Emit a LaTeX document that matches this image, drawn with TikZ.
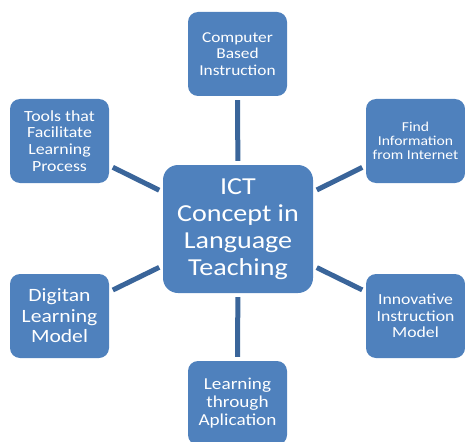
\documentclass[tikz,border=0pt]{standalone}
\usepackage{fontspec}
\setmainfont{Carlito}[FakeStretch=1.15]
\definecolor{boxblue}{HTML}{4F81BD}
\definecolor{linkblue}{HTML}{3A659A}
\begin{document}
\begin{tikzpicture}[x=1pt,y=-1pt,
  box/.style={fill=boxblue, rounded corners=10pt, text=white, align=center,
    inner sep=0pt, minimum width=99pt, minimum height=84pt},
  hub/.style={fill=boxblue, rounded corners=15pt, text=white, align=center,
    inner sep=0pt, minimum width=150pt, minimum height=128pt},
  link/.style={draw=linkblue, line width=5pt, shorten <=4pt, shorten >=4pt}]
\useasboundingbox (0,0) rectangle (465,441);

% central concept
\node[hub, font=\fontsize{24.4}{27}\selectfont] (hub) at (238,229)
  {ICT\\Concept in\\Language\\Teaching};

% surrounding topics
\node[box, font=\fontsize{15.1}{16.3}\selectfont] (cbi) at (237.5,54)
  {Computer\\Based\\Instruction};
\node[box, font=\fontsize{15.5}{16.7}\selectfont] (tools) at (59.5,141)
  {Tools that\\Facilitate\\Learning\\Process};
\node[box, font=\fontsize{13.6}{14}\selectfont] (find) at (415.5,141)
  {Find\\Information\\from Internet};
\node[box, font=\fontsize{18.8}{20.5}\selectfont] (digi) at (59.5,316)
  {Digitan\\Learning\\Model};
\node[box, font=\fontsize{15.4}{16.3}\selectfont] (innov) at (415.5,316)
  {Innovative\\Instruction\\Model};
\node[box, font=\fontsize{16.7}{18}\selectfont] (appl) at (237.5,403)
  {Learning\\through\\Aplication};

% spokes
\draw[link] (hub) -- (cbi);
\draw[link] (hub) -- (tools);
\draw[link] (hub) -- (find);
\draw[link] (hub) -- (digi);
\draw[link] (hub) -- (innov);
\draw[link] (hub) -- (appl);
\end{tikzpicture}
\end{document}
